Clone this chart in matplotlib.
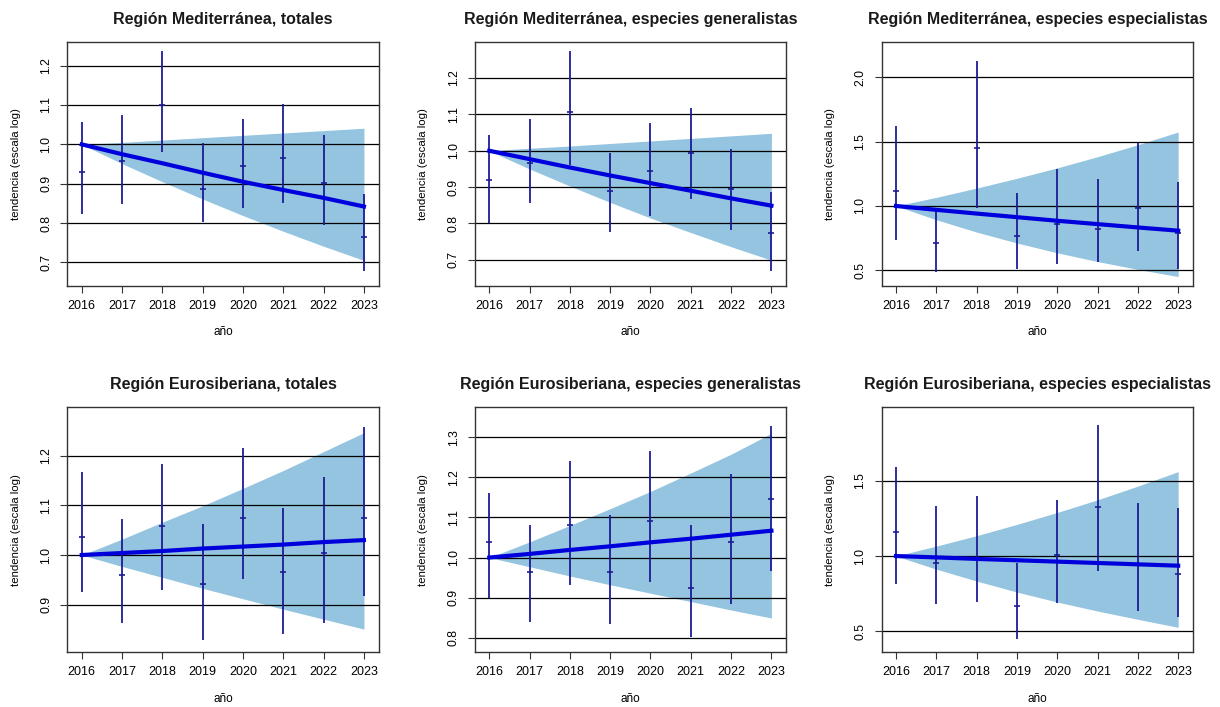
import matplotlib
matplotlib.use("Agg")
import matplotlib.pyplot as plt

plt.rcParams['font.family'] = ['Liberation Sans', 'DejaVu Sans']

years = [2016, 2017, 2018, 2019, 2020, 2021, 2022, 2023]
year_labels = ["2016", "2017", "2018", "2019", "2020", "2021", "2022", "2023"]

titles = [
    "Región Mediterránea, totales",
    "Región Mediterránea, especies generalistas",
    "Región Mediterránea, especies especialistas",
    "Región Eurosiberiana, totales",
    "Región Eurosiberiana, especies generalistas",
    "Región Eurosiberiana, especies especialistas",
]
x_label = "año"
y_label = "tendencia (escala log)"

# Mediterránea, totales
med_tot_est = [0.931, 0.958, 1.100, 0.886, 0.945, 0.966, 0.902, 0.764]
med_tot_lo = [0.822, 0.848, 0.981, 0.803, 0.837, 0.850, 0.795, 0.679]
med_tot_hi = [1.057, 1.075, 1.237, 1.004, 1.064, 1.102, 1.023, 0.873]
med_tot_trend = [1.000, 0.975, 0.952, 0.928, 0.905, 0.884, 0.864, 0.842]
med_tot_band_lo = [1.000, 0.951, 0.905, 0.861, 0.819, 0.779, 0.741, 0.705]
med_tot_band_hi = [1.000, 1.005, 1.011, 1.017, 1.023, 1.029, 1.035, 1.041]

# Mediterránea, generalistas
med_gen_est = [0.920, 0.967, 1.107, 0.888, 0.943, 0.993, 0.894, 0.773]
med_gen_lo = [0.800, 0.855, 0.961, 0.777, 0.821, 0.867, 0.781, 0.669]
med_gen_hi = [1.043, 1.087, 1.274, 0.994, 1.075, 1.117, 1.005, 0.886]
med_gen_trend = [1.000, 0.977, 0.954, 0.932, 0.911, 0.890, 0.869, 0.849]
med_gen_band_lo = [1.000, 0.950, 0.903, 0.858, 0.815, 0.775, 0.736, 0.699]
med_gen_band_hi = [1.000, 1.007, 1.013, 1.020, 1.027, 1.034, 1.041, 1.048]

# Mediterránea, especialistas
med_esp_est = [1.117, 0.710, 1.448, 0.767, 0.858, 0.824, 0.984, 0.788]
med_esp_lo = [0.736, 0.484, 0.982, 0.508, 0.549, 0.567, 0.653, 0.508]
med_esp_hi = [1.622, 0.982, 2.127, 1.098, 1.285, 1.207, 1.492, 1.184]
med_esp_trend = [1.000, 0.970, 0.941, 0.913, 0.885, 0.859, 0.833, 0.808]
med_esp_band_lo = [1.000, 0.893, 0.797, 0.712, 0.636, 0.568, 0.507, 0.451]
med_esp_band_hi = [1.000, 1.067, 1.139, 1.215, 1.296, 1.383, 1.476, 1.575]

# Eurosiberiana, totales
eur_tot_est = [1.036, 0.960, 1.059, 0.941, 1.074, 0.966, 1.005, 1.074]
eur_tot_lo = [0.926, 0.864, 0.930, 0.829, 0.951, 0.842, 0.864, 0.917]
eur_tot_hi = [1.166, 1.072, 1.183, 1.062, 1.215, 1.094, 1.156, 1.258]
eur_tot_trend = [1.000, 1.004, 1.008, 1.013, 1.017, 1.021, 1.026, 1.030]
eur_tot_band_lo = [1.000, 0.977, 0.955, 0.933, 0.912, 0.891, 0.871, 0.851]
eur_tot_band_hi = [1.000, 1.032, 1.066, 1.099, 1.134, 1.170, 1.208, 1.246]

# Eurosiberiana, generalistas
eur_gen_est = [1.038, 0.965, 1.082, 0.963, 1.090, 0.923, 1.038, 1.146]
eur_gen_lo = [0.900, 0.839, 0.932, 0.833, 0.938, 0.802, 0.885, 0.967]
eur_gen_hi = [1.161, 1.081, 1.241, 1.106, 1.265, 1.082, 1.208, 1.328]
eur_gen_trend = [1.000, 1.009, 1.019, 1.028, 1.038, 1.047, 1.057, 1.067]
eur_gen_band_lo = [1.000, 0.977, 0.954, 0.932, 0.911, 0.890, 0.869, 0.849]
eur_gen_band_hi = [1.000, 1.039, 1.080, 1.122, 1.165, 1.211, 1.258, 1.310]

# Eurosiberiana, especialistas
eur_esp_est = [1.159, 0.951, 0.980, 0.666, 1.004, 1.327, 0.940, 0.881]
eur_esp_lo = [0.816, 0.679, 0.697, 0.449, 0.686, 0.903, 0.635, 0.595]
eur_esp_hi = [1.591, 1.334, 1.396, 0.951, 1.369, 1.867, 1.354, 1.316]
eur_esp_trend = [1.000, 0.991, 0.981, 0.972, 0.963, 0.954, 0.945, 0.936]
eur_esp_band_lo = [1.000, 0.913, 0.834, 0.761, 0.695, 0.635, 0.580, 0.527]
eur_esp_band_hi = [1.000, 1.066, 1.135, 1.210, 1.289, 1.373, 1.464, 1.560]

# y tick values / labels per panel
yticks_p = [
    [0.7, 0.8, 0.9, 1.0, 1.1, 1.2],
    [0.7, 0.8, 0.9, 1.0, 1.1, 1.2],
    [0.5, 1.0, 1.5, 2.0],
    [0.9, 1.0, 1.1, 1.2],
    [0.8, 0.9, 1.0, 1.1, 1.2, 1.3],
    [0.5, 1.0, 1.5],
]

panels = [
    (med_tot_est, med_tot_lo, med_tot_hi, med_tot_trend, med_tot_band_lo, med_tot_band_hi),
    (med_gen_est, med_gen_lo, med_gen_hi, med_gen_trend, med_gen_band_lo, med_gen_band_hi),
    (med_esp_est, med_esp_lo, med_esp_hi, med_esp_trend, med_esp_band_lo, med_esp_band_hi),
    (eur_tot_est, eur_tot_lo, eur_tot_hi, eur_tot_trend, eur_tot_band_lo, eur_tot_band_hi),
    (eur_gen_est, eur_gen_lo, eur_gen_hi, eur_gen_trend, eur_gen_band_lo, eur_gen_band_hi),
    (eur_esp_est, eur_esp_lo, eur_esp_hi, eur_esp_trend, eur_esp_band_lo, eur_esp_band_hi),
]

# layout (styles / positions)
ylims = [(0.640, 1.261), (0.628, 1.300), (0.378, 2.277),
         (0.804, 1.297), (0.763, 1.375), (0.360, 1.987)]
xlim = (2015.645, 2023.372)
lefts = [0.0553, 0.3893, 0.7227]
width = 0.2553
rows = [(0.5955, 0.3455), (0.0771, 0.3468)]

band_color = "#94c4df"
bar_color = "#1c1c96"
trend_color = "#0000dd"
frame_color = "#333333"

fig = plt.figure(figsize=(12.2, 7.07), dpi=100)

for i, (est, lo, hi, trend, blo, bhi) in enumerate(panels):
    r, c = divmod(i, 3)
    bottom, height = rows[r]
    ax = fig.add_axes([lefts[c], bottom, width, height])
    ax.fill_between(years, blo, bhi, color=band_color, linewidth=0, zorder=1)
    for t in yticks_p[i]:
        ax.axhline(t, color="black", linewidth=0.9, zorder=2)
    ax.vlines(years, lo, hi, color=bar_color, linewidth=1.3, zorder=3)
    ax.plot(years, est, linestyle="none", marker="_", markersize=4,
            markeredgewidth=1.2, color=bar_color, zorder=3)
    ax.plot(years, trend, color=trend_color, linewidth=3.0,
            solid_capstyle="projecting", zorder=4)
    ax.set_xlim(*xlim)
    ax.set_ylim(*ylims[i])
    ax.set_xticks(years)
    ax.set_xticklabels(year_labels, fontsize=9)
    ax.set_yticks(yticks_p[i])
    ax.set_yticklabels([f"{t:.1f}" for t in yticks_p[i]], fontsize=8.8,
                       rotation=90, va="center")
    ax.tick_params(axis="x", length=5, width=0.8, pad=5, color=frame_color)
    ax.tick_params(axis="y", length=5, width=0.8, pad=6, color=frame_color)
    for s in ax.spines.values():
        s.set_color(frame_color)
        s.set_linewidth(1.0)
    ax.set_title(titles[i], fontsize=11.5, fontweight="bold", pad=13,
                 color="#1a1a1a")
    ax.set_xlabel(x_label, fontsize=8.5)
    ax.set_ylabel(y_label, fontsize=8.2)
    ax.xaxis.set_label_coords(0.5, -0.165)
    ax.yaxis.set_label_coords(-0.15, 0.5)

fig.savefig("out.png", dpi=100)
